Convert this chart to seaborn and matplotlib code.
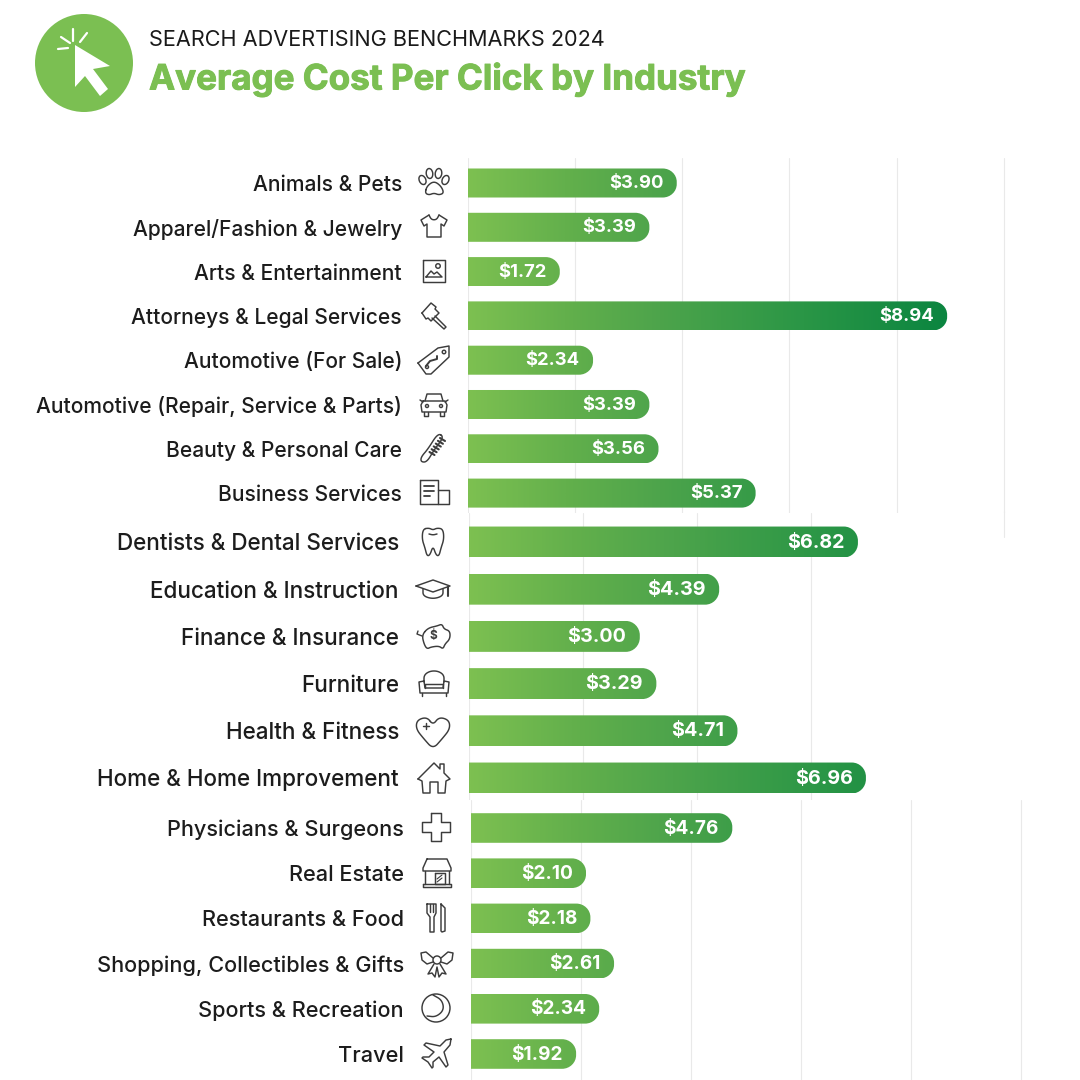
import numpy as np
import pandas as pd
import matplotlib
matplotlib.use('Agg')
import matplotlib.pyplot as plt
import matplotlib.patheffects as pe
import seaborn as sns
from matplotlib.colors import LinearSegmentedColormap
from matplotlib.path import Path
from matplotlib.patches import PathPatch, Circle, Ellipse, Polygon

# values
cats_a = ['Animals & Pets', 'Apparel/Fashion & Jewelry', 'Arts & Entertainment', 'Attorneys & Legal Services',
          'Automotive (For Sale)', 'Automotive (Repair, Service & Parts)', 'Beauty & Personal Care', 'Business Services']
vals_a = [3.90, 3.39, 1.72, 8.94, 2.34, 3.39, 3.56, 5.37]
cats_b = ['Dentists & Dental Services', 'Education & Instruction', 'Finance & Insurance', 'Furniture',
          'Health & Fitness', 'Home & Home Improvement']
vals_b = [6.82, 4.39, 3.00, 3.29, 4.71, 6.96]
cats_c = ['Physicians & Surgeons', 'Real Estate', 'Restaurants & Food', 'Shopping, Collectibles & Gifts',
          'Sports & Recreation', 'Travel']
vals_c = [4.76, 2.10, 2.18, 2.61, 2.34, 1.92]

GREEN = '#7BBF52'
INK = '#3c3c3c'
GRID = '#E9E9E9'
FONT = 'Inter'
W = 1080.0
XMAX = 10.2

sns.set_theme(style='white')
plt.rcParams['font.family'] = [FONT, 'DejaVu Sans']

cmap = LinearSegmentedColormap.from_list('bar', [(0, '#7DC051'), (0.2, '#63B04C'), (0.4, '#4DA44B'),
                                                 (0.7, '#2A9646'), (1, '#0B8540')])
fig = plt.figure(figsize=(10.8, 10.8), dpi=100, facecolor='white')


def pill(x1, y0, y1, rx):
    ry = (y1 - y0) / 2 * 0.92
    k = 0.45
    verts = [(0, y0), (x1 - rx, y0), (x1 - rx * k, y0), (x1, y0 + ry * k), (x1, y0 + ry),
             (x1, y1 - ry), (x1, y1 - ry * k), (x1 - rx * k, y1), (x1 - rx, y1), (0, y1), (0, y0)]
    codes = [Path.MOVETO, Path.LINETO, Path.CURVE4, Path.CURVE4, Path.CURVE4, Path.LINETO,
             Path.CURVE4, Path.CURVE4, Path.CURVE4, Path.LINETO, Path.CLOSEPOLY]
    return Path(verts, codes)


def group(cats, vals, x0, scale, top, bottom, first, step, label_x, ticks, label_size, value_size):
    # axes box in pixels, x runs in dollars
    ax = fig.add_axes([x0 / W, 1 - bottom / W, XMAX * scale / W, (bottom - top) / W])
    df = pd.DataFrame({'industry': cats, 'cpc': vals})
    sns.barplot(data=df, x='cpc', y='industry', ax=ax, width=0.655, color=GREEN)
    ax.set_xlabel('')
    ax.set_ylabel('')
    ax.set_xticks(ticks)
    ax.set_xticklabels([])
    ax.grid(axis='x', color=GRID, lw=0.8)
    ax.set_axisbelow(True)
    sns.despine(ax=ax, left=True, bottom=True)
    ax.patch.set_alpha(0)
    ax.tick_params(axis='y', length=0, pad=(x0 - label_x) * 0.72, labelsize=label_size, labelcolor='#1c1c1c')
    for t in ax.get_yticklabels():
        t.set_fontweight('medium')
    for bar, v in zip(list(ax.patches), vals):
        y0, y1 = bar.get_y(), bar.get_y() + bar.get_height()
        bar.set_visible(False)
        shape = PathPatch(pill(v, y0, y1, 14 / scale), transform=ax.transData, fc='none', ec='none')
        ax.add_patch(shape)
        grad = np.linspace(0, v / 8.94, 256).reshape(1, -1)
        im = ax.imshow(grad, extent=(0, v, y1, y0), cmap=cmap, vmin=0, vmax=1, aspect='auto', zorder=3)
        im.set_clip_path(shape)
    ax.set_xlim(0, XMAX)
    ax.set_ylim((bottom - first) / step, (top - first) / step)
    for i, v in enumerate(vals):
        ax.annotate('${:.2f}'.format(v), (v, i), xytext=(-9.6, -0.5), textcoords='offset points', ha='right',
                    va='center', color='white', fontsize=value_size, fontweight='bold', zorder=5)
    return ax


ax_a = group(cats_a, vals_a, 467.5, 53.65, 158, 513, 183, 44.3, 402, [0, 2, 4, 6, 8, 10], 15.1, 13.3)
ax_b = group(cats_b, vals_b, 468.5, 57.1, 513, 800, 542, 47.2, 399, [0, 2, 4, 6], 16.2, 14.2)
ax_c = group(cats_c, vals_c, 470.5, 55.0, 800, 1080, 828, 45.2, 404, [0, 2, 4, 6, 8, 10], 15.6, 13.7)
ax_a.plot([10, 10], [7.4, 8.0], color=GRID, lw=0.8, clip_on=False)

# pixel overlay for header and icons
ov = fig.add_axes([0, 0, 1, 1], zorder=10)
ov.set_xlim(0, W)
ov.set_ylim(W, 0)
ov.axis('off')
ov.patch.set_alpha(0)

ov.add_patch(Circle((84, 63), 49, fc=GREEN, ec='none'))
ov.add_patch(Polygon([(75, 45), (110, 66), (93, 69), (108, 89), (100, 96), (85, 76), (75, 87)], fc='white', ec='none'))
for p, q in [((73, 29), (73, 41)), ((61, 37), (70, 43)), ((80, 42), (87, 33)), ((58, 49), (68, 48))]:
    ov.plot([p[0], q[0]], [p[1], q[1]], color='white', lw=1.6, solid_capstyle='round')
ov.text(149, 40, 'SEARCH ADVERTISING BENCHMARKS 2024', fontsize=15.6, color='#1a1a1a', va='center', ha='left')
title = ov.text(149, 80, 'Average Cost Per Click by Industry', fontsize=25.2, fontweight='bold', color=GREEN, va='center', ha='left')
title.set_path_effects([pe.withStroke(linewidth=0.7, foreground=GREEN)])


def smooth(pts, closed=True, n=3):
    p = np.array(pts, dtype=float)
    for _ in range(n):
        a = p if not closed else np.vstack([p, p[:1]])
        q = np.empty((2 * (len(a) - 1), 2))
        q[0::2] = 0.75 * a[:-1] + 0.25 * a[1:]
        q[1::2] = 0.25 * a[:-1] + 0.75 * a[1:]
        p = q if closed else np.vstack([a[:1], q, a[-1:]])
    return np.vstack([p, p[:1]]) if closed else p


def ln(c, pts, closed=False, soft=False, lw=1.05):
    p = smooth(pts, closed) if soft else np.array(pts, dtype=float)
    if closed and not soft:
        p = np.vstack([p, p[:1]])
    ov.plot(p[:, 0] + c[0], p[:, 1] + c[1], color=INK, lw=lw, solid_joinstyle='round', solid_capstyle='round')


def ell(c, dx, dy, w, h, ang=0, lw=1.05):
    ov.add_patch(Ellipse((c[0] + dx, c[1] + dy), w, h, angle=ang, fc='none', ec=INK, lw=lw))


def paw(c):
    ell(c, -11.5, -2, 6.5, 9.5, -25); ell(c, -4.5, -8.5, 6.5, 10, -8)
    ell(c, 4.5, -8.5, 6.5, 10, 8); ell(c, 11.5, -2, 6.5, 9.5, 25)
    ln(c, [(-9, 11), (-7, 4), (0, -1), (7, 4), (10, 11), (5, 13), (0, 11), (-5, 13)], True, True)


def shirt(c):
    ln(c, [(-5, -11), (-13, -6), (-10, 0), (-7, -2), (-7, 11), (7, 11), (7, -2), (10, 0), (13, -6), (5, -11)], False)
    ln(c, [(-5, -11), (-3, -7), (0, -6), (3, -7), (5, -11)], False, True)


def picture(c):
    ln(c, [(-11, -11), (11, -11), (11, 11), (-11, 11)], True)
    ln(c, [(-8, 6), (-3, 0), (0, 3), (3, 1), (8, 6), (-8, 6)])
    ell(c, 4, -5, 4.5, 4.5)


def gavel(c):
    ln(c, [(-12, -3), (-3, -13), (2, -9), (1, -7), (5, -3), (-3, 5), (-6, 2), (-8, 3)], True)
    ln(c, [(1, 0), (12, 11), (10, 13), (-2, 2)])


def tag(c):
    ln(c, [(-16, 3), (4, -12), (15, -14), (15, -3), (-3, 14), (-8, 14)], True)
    ell(c, 10, -8, 3.5, 3.5)
    ln(c, [(-8, 6), (-4, 1), (3, -1), (3, -4)], lw=1.4)
    ell(c, -7, 7, 3, 3)


def car(c):
    ln(c, [(-9, -3), (-7, -10), (7, -10), (9, -3)])
    ln(c, [(-11, -3), (11, -3), (13, 1), (12, 8), (-12, 8), (-13, 1)], True)
    ln(c, [(-10, 8), (-10, 12), (-6, 12), (-6, 8)]); ln(c, [(10, 8), (10, 12), (6, 12), (6, 8)])
    ln(c, [(-14, -4), (-11, -2)]); ln(c, [(14, -4), (11, -2)])
    ell(c, -7, 2, 3, 3); ell(c, 7, 2, 3, 3)


def comb(c):
    ln(c, [(5, -15), (11, -11), (1, 2), (-6, 14), (-12, 14), (-12, 9), (-5, 1)], True, True)
    for i in range(6):
        ln(c, [(7 - i * 2.1, -10 + i * 2.8), (12 - i * 2.1, -7 + i * 2.8)], lw=1.5)


def news(c):
    ln(c, [(-15, -12), (3, -12), (3, 12), (-15, 12)], True)
    ln(c, [(3, -2), (14, -2), (14, 12), (3, 12)])
    ln(c, [(-11, -6), (-1, -6)], lw=1.3); ln(c, [(-11, -1), (-1, -1)], lw=1.3); ln(c, [(-11, 4), (-5, 4)], lw=1.3)


def tooth(c):
    ln(c, [(-10, -13), (-4, -14), (0, -12), (4, -14), (10, -13), (11, -3), (8, 6), (6, 14), (3, 13), (0, 4),
           (-3, 13), (-6, 14), (-8, 6), (-11, -3)], True, True)
    ln(c, [(-4, -8), (0, -7), (4, -8)], False, True)


def cap(c):
    ln(c, [(-17, -3), (0, -9), (17, -3), (0, 3)], True)
    ln(c, [(-10, 0), (-10, 7), (0, 10), (10, 7), (10, 0)], False, True)
    ln(c, [(15, -2), (15, 7)], lw=1.5)


def piggy(c):
    ln(c, [(-12, -1), (-6, -8), (3, -10), (8, -12), (10, -7), (16, -5), (16, 3), (11, 8), (9, 13), (5, 10),
           (-3, 11), (-7, 13), (-10, 8)], True, True)
    ln(c, [(-12, 0), (-17, -2), (-16, -5)], lw=1)
    ov.text(c[0] - 1, c[1] - 0.5, '$', fontsize=8.5, fontweight='bold', color=INK, ha='center', va='center')


def sofa(c):
    ln(c, [(-10, -2), (-10, -9), (-4, -13), (4, -13), (10, -9), (10, -2)], False, True)
    ln(c, [(-9, 4), (-9, 0), (9, 0), (9, 4)], False)
    ln(c, [(-10, -3), (-15, -2), (-14, 9), (14, 9), (15, -2), (10, -3), (9, 4), (-9, 4)], True)
    ln(c, [(-12, 9), (-12, 12)]); ln(c, [(12, 9), (12, 12)])


def heart(c):
    ln(c, [(0, -6), (-6, -14), (-16, -11), (-17, -2), (-9, 8), (0, 18), (9, 8), (17, -2), (16, -11), (6, -14)], True, True)
    ln(c, [(-10, -5), (-4, -5)]); ln(c, [(-7, -8), (-7, -2)])


def house(c):
    ln(c, [(-16, 1), (0, -15), (6, -9), (6, -14), (10, -14), (10, -5), (16, 1), (12, 3), (11, 15), (4, 15),
           (4, 4), (-4, 4), (-4, 15), (-11, 15), (-12, 3)], True)


def plus(c):
    ln(c, [(-5, -14), (5, -14), (5, -5), (14, -5), (14, 5), (5, 5), (5, 14), (-5, 14), (-5, 5), (-14, 5), (-14, -5), (-5, -5)], True)


def shop(c):
    ln(c, [(-10, -14), (10, -14), (14, -5), (14, -2), (-14, -2), (-14, -5)], True)
    ln(c, [(-12, -2), (-12, 11)]); ln(c, [(12, -2), (12, 11)])
    ln(c, [(-14, 11), (14, 11), (14, 14), (-14, 14)], True)
    ln(c, [(-2, 0), (8, 0), (8, 11), (-2, 11)], True)
    ln(c, [(0, 6), (5, 2)], lw=0.8); ln(c, [(0, 9), (5, 5)], lw=0.8)


def cutlery(c):
    ln(c, [(-10, -14), (-10, -5), (-7, -1), (-7, 14), (-3, 14), (-3, -1), (-1, -5), (-1, -14)], True)
    ln(c, [(-7, -14), (-7, -6)]); ln(c, [(-4, -14), (-4, -6)])
    ln(c, [(4, -14), (8, -10), (8, 13), (5, 14), (4, 13)], True)


def bow(c):
    ell(c, 0, -3, 8, 8)
    ln(c, [(-4, -5), (-11, -11), (-16, -10), (-15, -3), (-10, 1), (-4, -1)], False)
    ln(c, [(4, -5), (11, -11), (16, -10), (15, -3), (10, 1), (4, -1)], False)
    ln(c, [(-3, 1), (-9, 11), (-5, 10), (-2, 14), (0, 4), (2, 14), (5, 10), (9, 11), (3, 1)], False)


def ball(c):
    ell(c, 0, 0, 28, 28)
    ln(c, [(-3, -13), (6, -8), (8, 2), (0, 9), (-9, 8)], False, True)


def plane(c):
    ln(c, [(14, -15), (9, -14), (3, -8), (-11, -11), (-13, -9), (-3, -2), (-8, 3), (-14, 3), (-15, 4), (-9, 8),
           (-5, 14), (-4, 13), (-4, 8), (2, 3), (9, 13), (11, 11), (7, -2), (13, -9)], True)


icons = [(paw, 434, 182), (shirt, 434, 226), (picture, 434, 271), (gavel, 434, 316), (tag, 434, 360), (car, 434, 404),
         (comb, 433, 448), (news, 435, 492), (tooth, 433, 542), (cap, 433, 589), (piggy, 434, 636), (sofa, 434, 684),
         (heart, 433, 731), (house, 434, 778), (plus, 436, 827), (shop, 437, 873), (cutlery, 437, 918), (bow, 437, 963),
         (ball, 436, 1008), (plane, 437, 1054)]
for fn, x, y in icons:
    fn((x, y))

fig.savefig('out.png', dpi=100)
plt.close(fig)
